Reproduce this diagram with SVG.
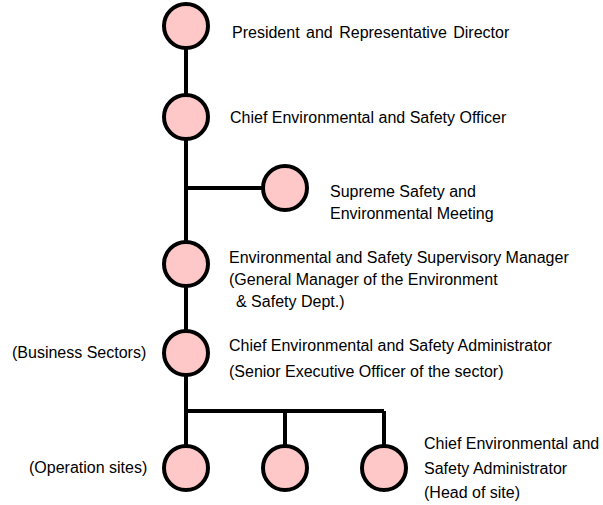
<svg xmlns="http://www.w3.org/2000/svg" width="603" height="505" viewBox="0 0 603 505">
<style>
.n{fill:#ffc8c8;stroke:#000;stroke-width:4}
.c{stroke:#000;stroke-width:4;fill:none}
text{font-family:"Liberation Sans",Arial,sans-serif;font-size:16px;fill:#000}
</style>
<rect width="603" height="505" fill="#fff"/>
<g id="connectors">
<path class="c" d="M186 26V468M186 188H285M186 411H384M285 411V468M384 411V468"/>
</g>
<g id="president"><circle class="n" cx="186" cy="26" r="22"/><text x="232" y="38" word-spacing="2">President and Representative Director</text></g>
<g id="ceso"><circle class="n" cx="186" cy="117" r="22"/><text x="230" y="123">Chief Environmental and Safety Officer</text></g>
<g id="meeting"><circle class="n" cx="285" cy="188" r="22"/><text x="330" y="197">Supreme Safety and</text><text x="330" y="219">Environmental Meeting</text></g>
<g id="supervisor"><circle class="n" cx="186" cy="264" r="22"/><text x="229" y="263">Environmental and Safety Supervisory Manager</text><text x="229" y="285">(General Manager of the Environment</text><text x="236" y="307">&amp; Safety Dept.)</text></g>
<g id="sector"><circle class="n" cx="186" cy="353" r="22"/><text x="12" y="358">(Business Sectors)</text><text x="229" y="351">Chief Environmental and Safety Administrator</text><text x="229" y="377">(Senior Executive Officer of the sector)</text></g>
<g id="site1"><circle class="n" cx="186" cy="468" r="22"/><text x="29" y="473">(Operation sites)</text></g>
<g id="site2"><circle class="n" cx="285" cy="468" r="22"/></g>
<g id="site3"><circle class="n" cx="384" cy="468" r="22"/><text x="424" y="449">Chief Environmental and</text><text x="424" y="474">Safety Administrator</text><text x="424" y="498">(Head of site)</text></g>
</svg>
